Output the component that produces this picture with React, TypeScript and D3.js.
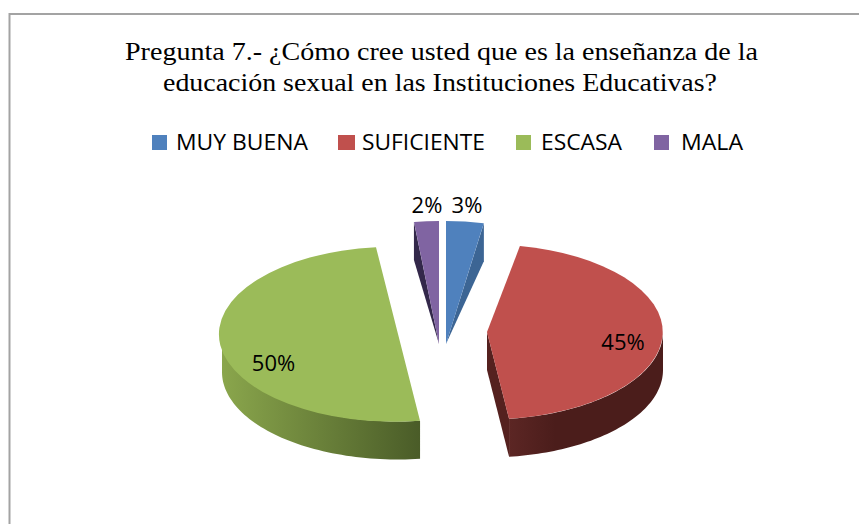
import React from 'react';
import * as d3 from 'd3';

const titleLines = [
  'Pregunta 7.- ¿Cómo cree usted que es la enseñanza de la',
  'educación sexual en las Instituciones Educativas?',
];
const categories = ['MUY BUENA', 'SUFICIENTE', 'ESCASA', 'MALA'];
const percents = [3, 45, 50, 2];
const colors = ['#4f81bd', '#c0504d', '#9bbb59', '#8064a2'];
const wallColors = ['#3c6594', '#4b1d1b', '#8aa64c', '#33284a'];
const wallEnds = ['#3c6594', '#5c2624', '#4a5c28', '#33284a'];

// exploded slice centres and radii
const centers: [number, number][] = [[446, 344], [487, 332], [398, 334], [439, 344]];
const radiusX = [202, 176, 176, 200];
const radiusY = [123, 87.5, 87.5, 123];
const labelPos: [number, number][] = [[467, 213], [623, 350], [273.5, 371], [427, 213]];
const legendX = [152, 338, 516, 654];
const legendWidth = [15, 17, 15, 15];
const legendTextX = [176, 362, 541, 681];
const legendTextLen = [132, 123, 81, 62];
const titleX = [125, 163];
const titleLen = [633, 554];

const depth = 38;

const App = () => {
  const arcs = d3
    .pie<number>()
    .sort(null)
    .startAngle(0)
    .endAngle(2 * Math.PI)(percents);
  const unitArc = d3.arc<d3.PieArcDatum<number>>().innerRadius(0).outerRadius(1);
  const line = d3.line();

  const wallPath = (i: number) => {
    const a = arcs[i];
    const [cx, cy] = centers[i];
    const px = (t: number, d: number): [number, number] => [
      cx + radiusX[i] * Math.sin(t),
      cy - radiusY[i] * Math.cos(t) + d,
    ];
    if (i === 0 || i === 3) {
      // narrow slices: wall tapers down to the tip
      const t = i === 0 ? a.endAngle : a.startAngle;
      return line([px(t, 0), px(t, depth), [cx, cy]]);
    }
    const from = Math.max(a.startAngle, Math.PI / 2);
    const to = Math.min(a.endAngle, (3 * Math.PI) / 2);
    const n = 60;
    const ts = d3.range(n + 1).map((k) => from + ((to - from) * k) / n);
    const top = ts.map((t) => px(t, 0));
    const bottom = ts.map((t) => px(t, depth)).reverse();
    return line([...top, ...bottom]);
  };

  // red slice also shows the cut face on its left
  const cutFace = () => {
    const a = arcs[1];
    const [cx, cy] = centers[1];
    const rimX = cx + radiusX[1] * Math.sin(a.endAngle);
    const rimY = cy - radiusY[1] * Math.cos(a.endAngle);
    return line([
      [cx, cy],
      [rimX, rimY],
      [rimX, rimY + depth],
      [cx, cy + depth],
    ]);
  };

  return (
    <svg
      width={859}
      height={524}
      style={{ position: 'absolute', left: 0, top: 0, background: '#fff' }}
    >
      <defs>
        {[1, 2].map((i) => (
          <linearGradient key={i} id={`wall${i}`} x1="0" x2="1" y1="0" y2="0">
            <stop offset="0%" stopColor={i === 1 ? wallEnds[i] : wallColors[i]} />
            <stop offset={i === 1 ? '30%' : '100%'} stopColor={i === 1 ? wallColors[i] : wallEnds[i]} />
          </linearGradient>
        ))}
      </defs>

      <path d="M9.5,524V14H859" fill="none" stroke="#a3a3a3" strokeWidth={2} />

      <g fontFamily="'Liberation Serif'" fontSize={26} fill="#000">
        {titleLines.map((t, i) => (
          <text
            key={t}
            x={titleX[i]}
            y={60 + i * 31}
            textLength={titleLen[i]}
            lengthAdjust="spacingAndGlyphs"
          >
            {t}
          </text>
        ))}
      </g>

      <g fontFamily="'Open Sans'" fontSize={21} fill="#000">
        {categories.map((c, i) => (
          <g key={c}>
            <rect x={legendX[i]} y={135} width={legendWidth[i]} height={15} fill={colors[i]} />
            <text
              x={legendTextX[i]}
              y={150}
              textLength={legendTextLen[i]}
              lengthAdjust="spacingAndGlyphs"
            >
              {c}
            </text>
          </g>
        ))}
      </g>

      <path d={cutFace() as string} fill="#55211f" />
      {[0, 1, 2, 3].map((i) => (
        <path
          key={i}
          d={wallPath(i) as string}
          fill={i === 1 || i === 2 ? `url(#wall${i})` : wallColors[i]}
        />
      ))}
      {arcs.map((a, i) => (
        <path
          key={categories[i]}
          d={unitArc(a) as string}
          transform={`translate(${centers[i][0]},${centers[i][1]}) scale(${radiusX[i]},${radiusY[i]})`}
          fill={colors[i]}
        />
      ))}

      <g fontFamily="'Open Sans'" fontSize={22} fill="#000" textAnchor="middle">
        {arcs.map((a, i) => (
          <text key={i} x={labelPos[i][0]} y={labelPos[i][1]}>
            {percents[i]}%
          </text>
        ))}
      </g>
    </svg>
  );
};

export default App;
